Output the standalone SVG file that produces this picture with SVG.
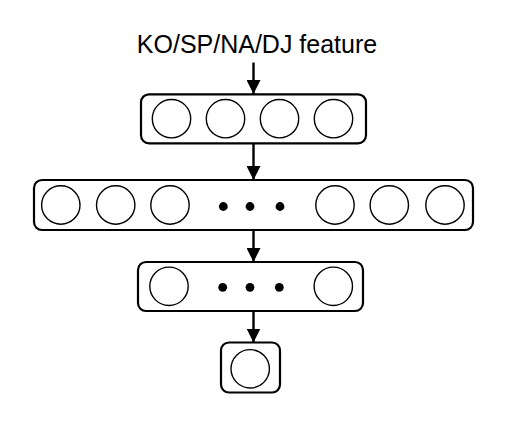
<svg xmlns="http://www.w3.org/2000/svg" width="512" height="433" viewBox="0 0 512 433">
<style>
.box{fill:#fff;stroke:#000;stroke-width:2.2}
.c{fill:#fff;stroke:#000;stroke-width:1.4}
.d{fill:#000}
.ln{stroke:#000;stroke-width:2.4;fill:none}
.lbl{font-family:"Liberation Sans",Arial,sans-serif;font-size:25px;fill:#000}
</style>
<defs>
<marker id="ah" markerUnits="userSpaceOnUse" markerWidth="14" markerHeight="14" viewBox="0 0 14 14" refX="14" refY="7" orient="auto">
<path d="M0,0 L14,7 L0,14 Z" fill="#000"/>
</marker>
</defs>
<rect width="512" height="433" fill="#fff"/>
<text class="lbl" x="257" y="53" text-anchor="middle">KO/SP/NA/DJ feature</text>
<g id="connectors">
<line class="ln" x1="253.5" y1="62.5" x2="253.5" y2="94" marker-end="url(#ah)"/>
<line class="ln" x1="253.5" y1="143" x2="253.5" y2="180" marker-end="url(#ah)"/>
<line class="ln" x1="253.5" y1="230" x2="253.5" y2="262" marker-end="url(#ah)"/>
<line class="ln" x1="253.5" y1="311" x2="253.5" y2="342.5" marker-end="url(#ah)"/>
</g>
<g id="layer1">
<rect class="box" x="141" y="94.3" width="225" height="49" rx="8"/>
<circle class="c" cx="171.5" cy="118.7" r="19.2"/>
<circle class="c" cx="225.5" cy="118.7" r="19.2"/>
<circle class="c" cx="279.5" cy="118.7" r="19.2"/>
<circle class="c" cx="333.5" cy="118.7" r="19.2"/>
</g>
<g id="layer2">
<rect class="box" x="34" y="180" width="439" height="50" rx="8"/>
<circle class="c" cx="60.8" cy="205" r="19.2"/>
<circle class="c" cx="115.7" cy="205" r="19.2"/>
<circle class="c" cx="170" cy="205" r="19.2"/>
<circle class="d" cx="223.3" cy="206.5" r="4.4"/>
<circle class="d" cx="250" cy="206.5" r="4.4"/>
<circle class="d" cx="280" cy="206.5" r="4.4"/>
<circle class="c" cx="335" cy="205" r="19.2"/>
<circle class="c" cx="389.3" cy="205" r="19.2"/>
<circle class="c" cx="445" cy="205" r="19.2"/>
</g>
<g id="layer3">
<rect class="box" x="138" y="262" width="225" height="49" rx="8"/>
<circle class="c" cx="169" cy="286.3" r="19.2"/>
<circle class="d" cx="222.7" cy="287.3" r="4.4"/>
<circle class="d" cx="250" cy="287.3" r="4.4"/>
<circle class="d" cx="279.3" cy="287.3" r="4.4"/>
<circle class="c" cx="333.3" cy="286.3" r="19.2"/>
</g>
<g id="output">
<rect class="box" x="221" y="342.5" width="59" height="50" rx="8"/>
<circle class="c" cx="250.2" cy="368.8" r="19.2"/>
</g>
</svg>
